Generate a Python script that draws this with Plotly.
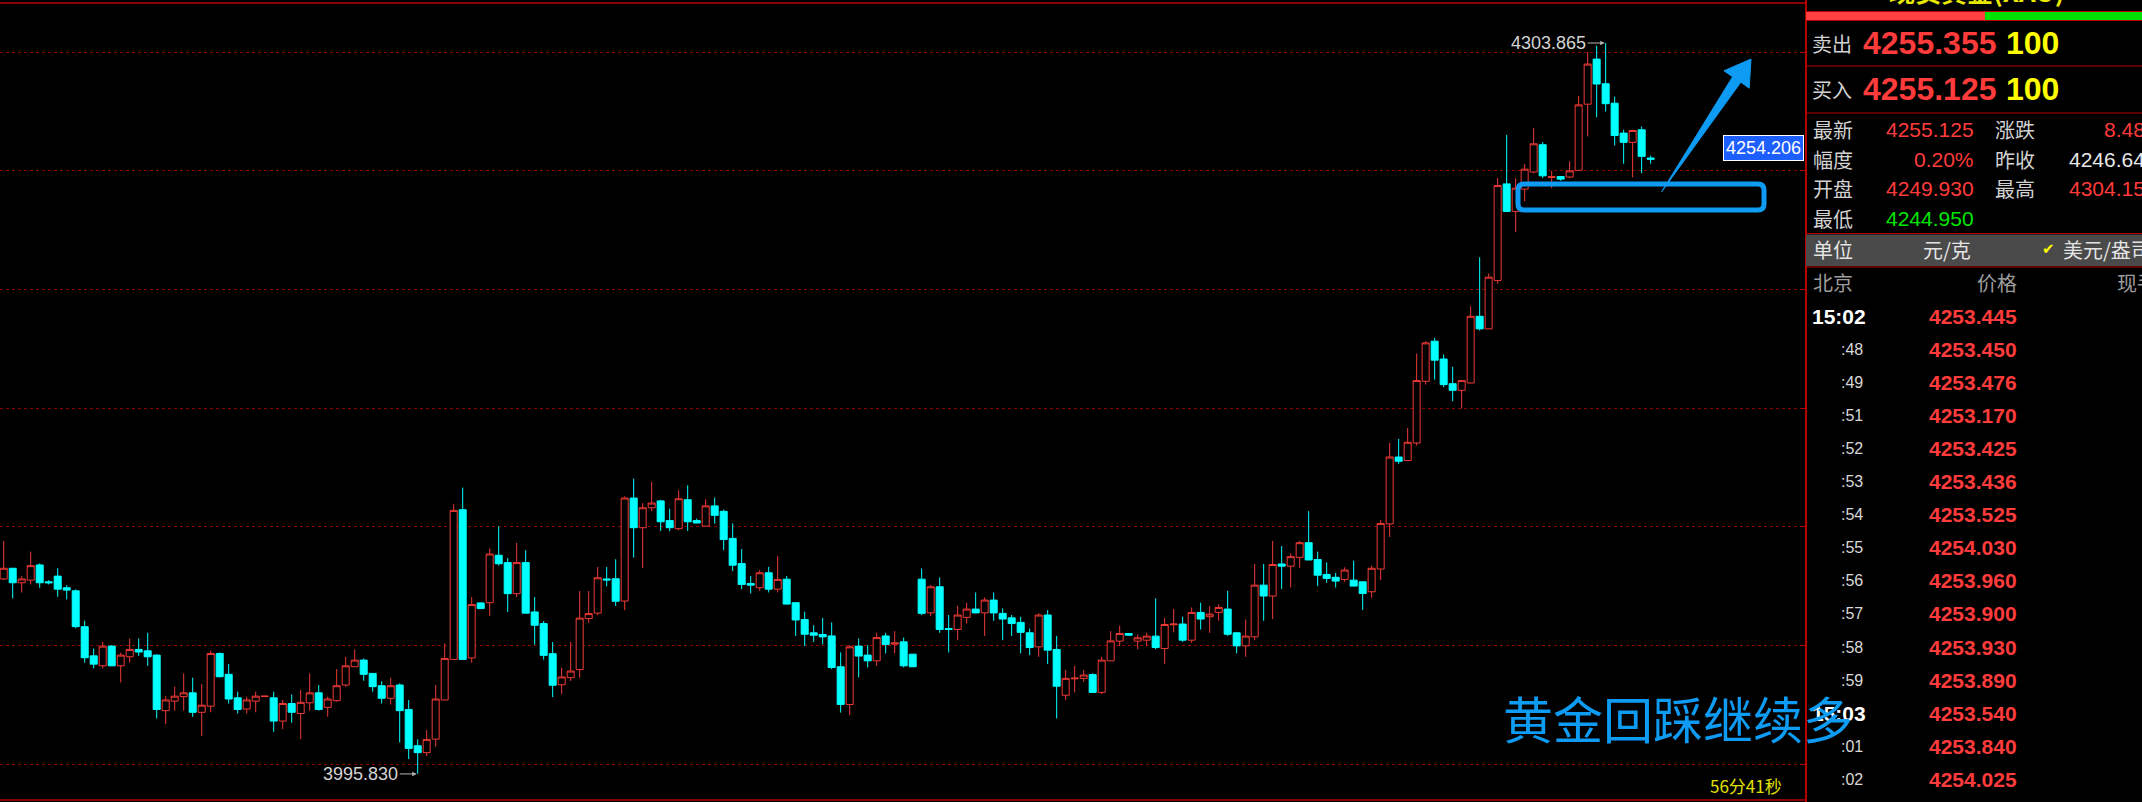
import plotly.graph_objects as go

W, H = 2142, 802

# ---------------- data ----------------
opens = [4078.0, 4082.5, 4076.4, 4077.5, 4083.9, 4076.8, 4079.2, 4074.3, 4073.0, 4057.9,
         4045.6, 4041.4, 4049.7, 4041.4, 4045.2, 4048.3, 4047.7, 4045.9, 4022.5, 4026.5,
         4028.4, 4030.0, 4021.8, 4024.4, 4046.6, 4037.8, 4027.9, 4023.2, 4026.5, 4028.4,
         4027.9, 4018.1, 4025.5, 4021.3, 4025.8, 4030.0, 4023.9, 4026.7, 4033.3, 4041.0,
         4043.8, 4038.2, 4033.0, 4027.7, 4033.3, 4023.0, 4007.7, 4004.8, 4010.5, 4027.0,
         4044.1, 4107.2, 4044.7, 4067.9, 4068.0, 4088.0, 4084.9, 4071.8, 4084.9, 4064.1,
         4059.2, 4046.5, 4033.4, 4036.4, 4039.8, 4061.3, 4063.6, 4078.0, 4078.1, 4068.7,
         4112.1, 4099.6, 4108.0, 4110.9, 4102.6, 4099.2, 4111.4, 4102.6, 4100.3, 4108.8,
         4106.5, 4095.1, 4084.5, 4076.1, 4074.3, 4080.6, 4073.7, 4077.9, 4068.0, 4060.9,
         4055.3, 4054.6, 4054.0, 4041.0, 4025.1, 4049.7, 4045.9, 4043.5, 4054.0, 4050.5,
         4051.5, 4046.3, 4077.9, 4063.7, 4074.7, 4057.1, 4056.7, 4061.8, 4065.3, 4063.7,
         4069.1, 4063.5, 4061.6, 4059.7, 4055.3, 4049.4, 4062.8, 4048.3, 4029.0, 4035.9,
         4036.1, 4037.7, 4030.2, 4043.5, 4051.8, 4055.0, 4051.8, 4052.2, 4053.9, 4048.7,
         4058.7, 4059.0, 4052.2, 4063.9, 4062.1, 4063.9, 4065.3, 4055.3, 4049.8, 4053.6,
         4075.4, 4070.8, 4084.3, 4083.4, 4087.1, 4093.3, 4086.2, 4079.9, 4078.7, 4077.8,
         4077.5, 4076.8, 4072.6, 4082.2, 4101.2, 4129.4, 4127.9, 4135.3, 4161.3, 4178.2,
         4170.7, 4160.3, 4157.5, 4160.6, 4188.7, 4183.4, 4203.8, 4244.5, 4232.9, 4242.3,
         4249.5, 4261.0, 4247.2, 4247.6, 4247.4, 4250.2, 4278.1, 4297.1, 4286.7, 4278.5,
         4265.9, 4262.0, 4267.3, 4255.4]
highs = [4094.0, 4082.6, 4079.2, 4089.5, 4084.6, 4077.5, 4082.5, 4075.4, 4073.6, 4060.4,
         4048.7, 4051.5, 4050.1, 4046.9, 4052.9, 4052.9, 4055.3, 4046.3, 4028.6, 4032.6,
         4038.2, 4036.4, 4033.7, 4047.8, 4047.0, 4042.1, 4030.5, 4028.4, 4030.5, 4028.7,
         4030.5, 4027.0, 4029.3, 4031.2, 4038.2, 4033.3, 4028.4, 4040.0, 4045.2, 4048.3,
         4044.5, 4038.3, 4034.9, 4036.4, 4034.0, 4027.0, 4010.4, 4014.3, 4033.3, 4050.8,
         4109.7, 4116.5, 4070.4, 4068.0, 4090.8, 4100.2, 4086.8, 4093.2, 4090.1, 4070.4,
         4060.3, 4051.4, 4040.6, 4051.4, 4072.9, 4072.9, 4083.0, 4083.0, 4086.3, 4112.8,
         4120.3, 4110.0, 4118.9, 4111.4, 4107.6, 4115.4, 4117.5, 4103.4, 4111.6, 4112.3,
         4107.2, 4101.4, 4090.6, 4079.3, 4081.7, 4083.1, 4087.6, 4079.3, 4068.1, 4064.2,
         4058.5, 4061.6, 4059.7, 4047.0, 4050.1, 4052.9, 4050.1, 4055.3, 4055.3, 4056.0,
         4053.3, 4046.4, 4082.4, 4075.4, 4078.6, 4062.8, 4066.7, 4068.0, 4072.3, 4070.2,
         4072.3, 4065.6, 4062.8, 4062.1, 4057.1, 4063.5, 4064.9, 4054.0, 4039.6, 4041.4,
         4039.6, 4038.2, 4045.2, 4056.0, 4058.3, 4055.1, 4054.6, 4055.3, 4069.8, 4061.6,
         4065.3, 4062.1, 4066.0, 4068.0, 4066.6, 4067.3, 4073.0, 4055.7, 4060.9, 4084.3,
         4084.3, 4094.0, 4091.9, 4088.8, 4094.0, 4106.6, 4089.5, 4085.0, 4080.6, 4082.9,
         4085.7, 4076.9, 4083.6, 4102.8, 4135.3, 4137.0, 4141.6, 4173.0, 4178.2, 4179.6,
         4172.6, 4167.4, 4161.7, 4192.9, 4213.6, 4206.7, 4247.0, 4265.2, 4246.9, 4252.8,
         4268.0, 4262.1, 4250.0, 4247.7, 4254.0, 4281.6, 4300.0, 4302.7, 4303.865, 4281.3,
         4267.3, 4267.3, 4268.7, 4256.4]
lows = [4077.5, 4069.8, 4072.3, 4075.7, 4074.3, 4075.7, 4070.5, 4069.4, 4057.2, 4042.7,
        4040.3, 4040.3, 4041.3, 4034.4, 4042.7, 4045.6, 4041.4, 4019.2, 4016.8, 4022.5,
        4022.5, 4019.9, 4011.8, 4021.8, 4036.5, 4025.5, 4021.3, 4021.3, 4021.8, 4028.3,
        4013.6, 4014.7, 4017.4, 4010.5, 4022.5, 4022.5, 4019.9, 4026.3, 4032.6, 4040.9,
        4035.1, 4030.5, 4025.5, 4025.1, 4009.1, 4002.1, 3995.83, 4003.3, 4007.3, 4026.9,
        4044.0, 4044.0, 4042.7, 4065.4, 4062.4, 4083.7, 4064.1, 4070.4, 4063.5, 4050.3,
        4044.0, 4028.2, 4029.4, 4035.0, 4036.4, 4059.6, 4062.7, 4074.9, 4066.6, 4064.8,
        4087.0, 4082.6, 4106.6, 4098.2, 4098.2, 4098.5, 4098.2, 4101.5, 4100.2, 4101.3,
        4090.1, 4081.3, 4073.7, 4071.9, 4073.0, 4072.3, 4072.3, 4067.3, 4054.0, 4049.7,
        4051.5, 4050.4, 4040.0, 4021.7, 4020.6, 4036.5, 4040.7, 4041.4, 4046.6, 4046.6,
        4040.7, 4040.9, 4062.8, 4062.3, 4055.3, 4047.0, 4052.2, 4059.2, 4063.6, 4054.0,
        4060.4, 4052.2, 4054.0, 4046.6, 4045.9, 4045.2, 4042.1, 4019.2, 4026.9, 4030.2,
        4034.7, 4030.1, 4029.5, 4043.4, 4049.7, 4054.2, 4048.4, 4049.7, 4048.4, 4042.1,
        4055.5, 4051.5, 4051.1, 4056.7, 4055.3, 4060.4, 4054.0, 4046.6, 4045.2, 4052.2,
        4060.4, 4061.1, 4073.7, 4074.4, 4082.7, 4085.9, 4075.0, 4076.4, 4074.4, 4076.8,
        4074.9, 4064.9, 4070.1, 4077.5, 4095.7, 4126.5, 4127.8, 4134.2, 4159.9, 4162.0,
        4158.8, 4152.9, 4149.8, 4160.5, 4182.7, 4183.3, 4202.4, 4232.8, 4224.2, 4237.1,
        4249.0, 4246.9, 4242.7, 4245.8, 4246.9, 4250.1, 4264.5, 4272.6, 4275.0, 4260.7,
        4253.0, 4247.2, 4249.0, 4253.0]
closes = [4082.5, 4076.4, 4078.0, 4083.6, 4076.4, 4076.4, 4073.7, 4073.3, 4057.9, 4044.8,
          4042.1, 4049.7, 4041.4, 4045.9, 4048.3, 4047.2, 4045.2, 4023.0, 4027.0, 4028.6,
          4030.0, 4021.8, 4024.8, 4046.6, 4036.8, 4027.4, 4023.0, 4027.0, 4028.6, 4028.6,
          4018.1, 4025.5, 4021.8, 4026.0, 4030.0, 4023.0, 4027.4, 4033.0, 4041.4, 4043.8,
          4037.8, 4032.6, 4027.7, 4033.0, 4022.5, 4006.6, 4004.8, 4010.4, 4027.4, 4044.5,
          4106.9, 4044.1, 4067.2, 4065.5, 4088.5, 4084.4, 4071.8, 4084.9, 4063.6, 4058.5,
          4045.8, 4033.2, 4036.7, 4039.2, 4061.5, 4063.4, 4078.5, 4077.6, 4068.6, 4112.1,
          4099.6, 4108.0, 4110.0, 4102.1, 4099.6, 4111.8, 4102.1, 4101.6, 4108.8, 4104.8,
          4094.6, 4083.8, 4075.7, 4075.4, 4080.6, 4073.7, 4077.8, 4067.4, 4060.7, 4054.7,
          4054.3, 4053.6, 4040.7, 4025.1, 4049.4, 4045.5, 4043.5, 4053.3, 4050.4, 4051.1,
          4041.4, 4041.0, 4063.5, 4074.7, 4056.7, 4056.7, 4062.8, 4065.3, 4063.7, 4069.1,
          4063.7, 4061.1, 4059.2, 4055.5, 4049.1, 4062.8, 4048.0, 4032.8, 4036.1, 4036.2,
          4037.5, 4030.2, 4043.8, 4051.9, 4055.0, 4054.3, 4053.2, 4053.9, 4049.1, 4058.8,
          4059.0, 4052.2, 4063.9, 4061.1, 4063.2, 4066.0, 4054.7, 4049.8, 4053.9, 4075.4,
          4070.8, 4084.1, 4083.4, 4087.4, 4093.3, 4086.0, 4079.6, 4078.2, 4077.1, 4081.75,
          4075.0, 4071.9, 4082.5, 4101.4, 4129.4, 4127.6, 4135.6, 4161.6, 4177.5, 4170.2,
          4159.9, 4157.5, 4161.6, 4188.7, 4183.4, 4205.2, 4243.8, 4232.9, 4242.7, 4250.7,
          4261.4, 4247.9, 4247.5, 4246.5, 4250.0, 4277.8, 4295.0, 4286.6, 4278.3, 4264.9,
          4262.0, 4267.0, 4256.1, 4254.9]
last_price = 4254.206
grid_prices = [4000, 4050, 4100, 4150, 4200, 4250, 4300]

title_text = "现货黄金(XAU)"
quote_labels = ["卖出", "买入"]
quote_prices = ["4255.355", "4255.125"]
quote_sizes = ["100", "100"]
stat_left_labels = ["最新", "幅度", "开盘", "最低"]
stat_left_values = ["4255.125", "0.20%", "4249.930", "4244.950"]
stat_right_labels = ["涨跌", "昨收", "最高"]
stat_right_values = ["8.485", "4246.640", "4304.150"]
tick_times = ["15:02", ":48", ":49", ":51", ":52", ":53", ":54", ":55", ":56", ":57",
              ":58", ":59", "15:03", ":01", ":02"]
tick_prices = ["4253.445", "4253.450", "4253.476", "4253.170", "4253.425", "4253.436",
               "4253.525", "4254.030", "4253.960", "4253.900", "4253.930", "4253.890",
               "4253.540", "4253.840", "4254.025"]
caption = "黄金回踩继续多"
countdown = "56分41秒"

# ---------------- styles ----------------
RED = "#EE3A36"
CYAN = "#00FFFF"
GRID = "#8A0000"
BORDER = "#B80000"
BLUE = "#0E9BF3"
TXT_RED = "#FF3B3B"
GRAY = "#D2D2D2"
CJK = "Noto Sans CJK SC"
SANS = "Liberation Sans"
PANEL_X = 1805


def px(x):
    return x / W


def py(y):
    return 1 - y / H


fig = go.Figure()
fig.add_trace(go.Candlestick(
    x=list(range(len(opens))), open=opens, high=highs, low=lows, close=closes,
    increasing=dict(line=dict(color=RED, width=1), fillcolor="#000000"),
    decreasing=dict(line=dict(color=CYAN, width=1), fillcolor=CYAN),
    whiskerwidth=0, hoverinfo="skip", showlegend=False))

annotations = []


def label(x, y, text, size, color, anchor="left", family=SANS, weight="normal", yanchor="middle"):
    annotations.append(dict(x=px(x), y=py(y), xref="paper", yref="paper", text=text,
                            showarrow=False, xanchor=anchor, yanchor=yanchor, borderpad=0,
                            font=dict(size=size, color=color, family=family, weight=weight)))


# extreme price markers
imax = max(range(len(highs)), key=lambda i: highs[i])
imin = min(range(len(lows)), key=lambda i: lows[i])
for idx, val in ((imax, highs[imax]), (imin, lows[imin])):
    annotations.append(dict(x=idx, y=val, xref="x", yref="y", text=f"{val:.3f}",
                            showarrow=True, ax=-57, ay=0, arrowhead=2, arrowsize=0.9,
                            arrowwidth=1, arrowcolor="#B4B4B4", standoff=1,
                            font=dict(size=18, color="#D4D4D4", family=SANS)))

# last price tag
annotations.append(dict(x=px(PANEL_X - 1), y=last_price, xref="paper", yref="y",
                        text=f"{last_price:.3f}", showarrow=False, xanchor="right",
                        yanchor="bottom", bgcolor="#1D5EFF", bordercolor="#FFFFFF",
                        borderwidth=1, borderpad=2,
                        font=dict(size=18, color="#FFFFFF", family=SANS)))

# right panel text
label(1977, -10, title_text, 26, "#E8E800", anchor="center", family=CJK, weight="bold")
for k, (lb, pr, sz) in enumerate(zip(quote_labels, quote_prices, quote_sizes)):
    y = 43 + 46 * k
    label(1811, y, lb, 20, GRAY, family=CJK)
    label(1862, y, pr, 32, TXT_RED, weight="bold")
    label(2005, y, sz, 32, "#FFFF00", weight="bold")

left_colors = [TXT_RED, TXT_RED, TXT_RED, "#00E600"]
right_colors = [TXT_RED, "#E8E8E8", TXT_RED]
for k, (lb, v) in enumerate(zip(stat_left_labels, stat_left_values)):
    y = 129.5 + 29.7 * k
    label(1812, y, lb, 20, GRAY, family=CJK)
    label(1975, y, v, 21, left_colors[k], anchor="right")
for k, (lb, v) in enumerate(zip(stat_right_labels, stat_right_values)):
    y = 129.5 + 29.7 * k
    label(1994, y, lb, 20, GRAY, family=CJK)
    label(2158, y, v, 21, right_colors[k], anchor="right")

label(1812, 249, "单位", 20, "#E4E4E4", family=CJK)
label(1947, 249, "元/克", 20, "#E4E4E4", anchor="center", family=CJK)
label(2048, 249, "✔", 15, "#FFFF00", anchor="center", family="DejaVu Sans")
label(2062, 249, "美元/盎司", 20, "#E4E4E4", family=CJK)

label(1812, 283, "北京", 20, "#9C9C9C", family=CJK)
label(1997, 283, "价格", 20, "#9C9C9C", anchor="center", family=CJK)
label(2116, 283, "现手", 20, "#9C9C9C", family=CJK)

for k, (t, p) in enumerate(zip(tick_times, tick_prices)):
    y = 316 + 33.1 * k
    if t.startswith("15"):
        label(1867, y, t, 21, "#FFFFFF", anchor="right", weight="bold")
    else:
        label(1864, y, t, 16, "#D8D8D8", anchor="right")
    label(2018, y, p, 21, TXT_RED, anchor="right", weight="bold")

# overlay texts
label(1502, 717, caption, 50, BLUE, family=CJK)
label(1709, 785, countdown, 17, "#E0E000", family=CJK)

# ---------------- shapes ----------------
shapes = []


def hline(y, x0, x1, color=BORDER, width=1):
    shapes.append(dict(type="line", xref="paper", yref="paper", x0=px(x0), x1=px(x1),
                       y0=py(y), y1=py(y), line=dict(color=color, width=width)))


def rect(x0, y0, x1, y1, fill, line_color=None):
    shapes.append(dict(type="rect", xref="paper", yref="paper", x0=px(x0), x1=px(x1),
                       y0=py(y0), y1=py(y1), fillcolor=fill,
                       line=dict(width=1 if line_color else 0, color=line_color or fill)))


hline(3, 0, PANEL_X, width=1.5)
hline(800, 0, PANEL_X, width=1.5)
rect(1806, 12, 1985, 20, "#FF4040")
rect(1985, 12, W + 2, 20, "#00E000")
hline(11.5, PANEL_X, W)
for y in (20.5, 66, 113, 233.5, 267):
    hline(y, PANEL_X, W)
rect(1806, 234.5, W + 2, 266, "#4A4A4A")


def path_from(points, close=True):
    s = "M " + " L ".join(f"{px(x):.5f},{py(y):.5f}" for x, y in points)
    return s + (" Z" if close else "")


# rounded blue rectangle
x0, y0, x1, y1, r = 1518, 184, 1764, 210, 6
rp = (f"M {px(x0 + r)},{py(y0)} L {px(x1 - r)},{py(y0)} Q {px(x1)},{py(y0)} {px(x1)},{py(y0 + r)} "
      f"L {px(x1)},{py(y1 - r)} Q {px(x1)},{py(y1)} {px(x1 - r)},{py(y1)} "
      f"L {px(x0 + r)},{py(y1)} Q {px(x0)},{py(y1)} {px(x0)},{py(y1 - r)} "
      f"L {px(x0)},{py(y0 + r)} Q {px(x0)},{py(y0)} {px(x0 + r)},{py(y0)} Z")
shapes.append(dict(type="path", xref="paper", yref="paper", path=rp,
                   line=dict(color=BLUE, width=5)))
# blue tapered arrow
arrow_pts = [(1661.7, 191.7), (1732.6, 76.8), (1724, 70.8), (1751, 59),
             (1749.2, 88.2), (1740.8, 82.2)]
shapes.append(dict(type="path", xref="paper", yref="paper", path=path_from(arrow_pts),
                   fillcolor=BLUE, line=dict(color=BLUE, width=1)))

fig.update_layout(
    width=W, height=H, margin=dict(l=0, r=0, t=0, b=0),
    paper_bgcolor="#000000", plot_bgcolor="#000000",
    boxgap=0.22, boxgroupgap=0,
    showlegend=False, hovermode=False,
    xaxis=dict(domain=[0, PANEL_X / W], range=[-0.411, 200.15], visible=False,
               rangeslider=dict(visible=False), fixedrange=True),
    yaxis=dict(domain=[0, 1], range=[3984.0, 4322.0], side="right", anchor="x",
               tickmode="array", tickvals=grid_prices, showticklabels=False,
               ticks="inside", ticklen=4, tickcolor=BORDER,
               showgrid=True, gridcolor=GRID, griddash="dot", gridwidth=1,
               showline=True, linecolor=BORDER, linewidth=1.5, zeroline=False,
               fixedrange=True),
    annotations=annotations, shapes=shapes,
    font=dict(family=SANS),
)

fig.write_html("out.html", config={"displayModeBar": False, "staticPlot": True},
               post_script="document.body.style.margin='0';document.body.style.overflow='hidden';")
